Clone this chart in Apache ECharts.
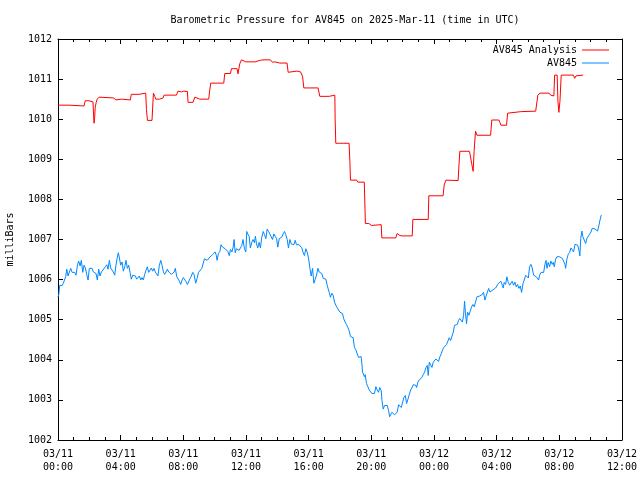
<!DOCTYPE html>
<html><head><meta charset="utf-8">
<script src="https://cdn.jsdelivr.net/npm/echarts@6/dist/echarts.min.js"></script>
<style>html,body{margin:0;padding:0;background:#fff}#c{width:640px;height:480px}</style>
</head><body><div id="c"></div>
<script>
// Time in hours since 03/11 00:00 UTC, pressure in milliBars
const xTickLabels = ['03/11\n00:00','03/11\n04:00','03/11\n08:00','03/11\n12:00','03/11\n16:00','03/11\n20:00','03/12\n00:00','03/12\n04:00','03/12\n08:00','03/12\n12:00'];
const seriesNames = ['AV845 Analysis', 'AV845'];

const analysisPoints = [[0,1010.35],[0.70,1010.35],[0.715,1010.33],[1.66,1010.33],[1.74,1010.46],[1.98,1010.46],[2.01,1010.43],[2.235,1010.43],[2.27,1010.1],[2.30,1009.9],[2.34,1010.05],[2.375,1010.3],[2.44,1010.42],[2.50,1010.5],[2.62,1010.55],[2.695,1010.53],[3.557,1010.53],[3.685,1010.48],[3.81,1010.46],[4.05,1010.5],[4.15,1010.48],[4.62,1010.48],[4.675,1010.62],[5.17,1010.62],[5.22,1010.65],[5.60,1010.65],[5.645,1010.24],[5.71,1009.97],[6.00,1009.97],[6.09,1010.65],[6.175,1010.57],[6.24,1010.5],[6.49,1010.5],[6.56,1010.52],[6.705,1010.53],[6.77,1010.6],[7.56,1010.6],[7.66,1010.7],[7.88,1010.68],[8.03,1010.7],[8.26,1010.69],[8.30,1010.42],[8.62,1010.42],[8.73,1010.55],[8.84,1010.53],[9.05,1010.5],[9.62,1010.5],[9.685,1010.72],[9.75,1010.9],[10.58,1010.9],[10.645,1011.14],[11.01,1011.14],[11.07,1011.26],[11.43,1011.26],[11.49,1011.13],[11.60,1011.38],[11.71,1011.48],[11.81,1011.45],[11.99,1011.43],[12.58,1011.43],[12.62,1011.47],[12.92,1011.47],[12.99,1011.49],[13.15,1011.48],[13.56,1011.48],[13.69,1011.42],[13.84,1011.43],[14.16,1011.4],[14.62,1011.4],[14.69,1011.17],[14.75,1011.2],[15.26,1011.2],[15.33,1011.22],[15.48,1011.18],[15.61,1011.07],[15.69,1010.78],[16.60,1010.78],[16.71,1010.57],[17.31,1010.57],[17.37,1010.6],[17.67,1010.6],[17.69,1010.0],[17.73,1009.4],[17.99,1009.4],[18.05,1009.38],[18.20,1009.4],[18.58,1009.4],[18.63,1008.95],[18.67,1008.48],[19.07,1008.48],[19.14,1008.43],[19.55,1008.43],[19.62,1007.4],[19.69,1007.38],[19.84,1007.4],[20.01,1007.35],[20.10,1007.37],[20.63,1007.37],[20.67,1007.04],[21.56,1007.04],[21.65,1007.15],[21.82,1007.1],[21.95,1007.09],[22.61,1007.09],[22.65,1007.5],[23.63,1007.5],[23.67,1008.09],[24.58,1008.09],[24.65,1008.36],[24.76,1008.48],[25.54,1008.47],[25.59,1008.83],[25.65,1009.2],[26.25,1009.2],[26.29,1009.15],[26.40,1008.9],[26.50,1008.7],[26.56,1009.2],[26.65,1009.7],[26.74,1009.6],[27.61,1009.6],[27.65,1009.78],[27.69,1009.98],[28.14,1009.98],[28.21,1009.92],[28.27,1009.85],[28.63,1009.85],[28.70,1010.15],[28.76,1010.19],[29.59,1010.19],[29.66,1010.2],[30.49,1010.2],[30.57,1010.18],[30.63,1010.6],[30.76,1010.65],[31.35,1010.65],[31.44,1010.6],[31.65,1010.58],[31.70,1011.1],[31.86,1011.1],[31.91,1010.45],[31.97,1010.17],[32.04,1010.45],[32.12,1011.1],[32.89,1011.1],[32.98,1011.02],[33.06,1011.08],[33.14,1011.1],[33.52,1011.1]];

const stationPointsA = [[0,1005.57],[0.05,1005.62],[0.11,1005.86],[0.17,1005.82],[0.26,1005.85],[0.34,1005.91],[0.43,1005.95],[0.49,1006.07],[0.56,1006.26],[0.64,1006.09],[0.73,1006.19],[0.81,1006.28],[0.90,1006.18],[1.07,1006.18],[1.15,1006.11],[1.24,1006.36],[1.32,1006.46],[1.41,1006.34],[1.49,1006.48],[1.58,1006.18],[1.66,1006.36],[1.75,1006.29],[1.83,1006.13],[1.92,1005.99],[2.00,1006.28],[2.17,1006.28],[2.26,1006.19],[2.43,1006.15],[2.51,1005.99],[2.60,1006.26],[2.68,1006.09],[2.77,1006.19],[2.85,1006.23],[3.02,1006.32],[3.11,1006.37],[3.19,1006.26],[3.28,1006.48],[3.36,1006.29],[3.45,1006.28],[3.53,1006.19],[3.62,1006.11],[3.70,1006.36],[3.79,1006.56],[3.85,1006.67],[3.92,1006.54],[4.00,1006.36],[4.09,1006.44],[4.17,1006.21],[4.26,1006.32],[4.34,1006.48],[4.43,1006.28],[4.51,1006.36],[4.60,1006.18],[4.68,1006.01],[4.77,1006.11],[4.85,1006.07],[4.94,1006.09],[5.02,1006.01],[5.11,1006.05],[5.19,1006.09],[5.28,1005.99],[5.36,1006.05],[5.45,1005.99],[5.53,1006.13],[5.62,1006.11],[5.70,1006.32],[5.79,1006.18],[5.87,1006.19],[5.96,1006.29],[6.04,1006.21],[6.13,1006.28],[6.21,1006.19],[6.30,1006.23],[6.38,1006.09],[6.47,1006.36],[6.56,1006.48],[6.64,1006.36],[6.73,1006.19],[6.81,1006.13],[6.90,1006.09],[6.98,1006.26],[7.07,1006.19],[7.15,1006.18],[7.24,1006.13],[7.32,1006.09],[7.41,1006.19],[7.49,1006.28],[7.58,1006.07],[7.66,1006.03],[7.75,1005.96],[7.83,1005.88],[7.92,1005.99],[8.00,1006.05],[8.09,1006.07],[8.17,1005.95],[8.26,1005.88],[8.34,1005.88],[8.43,1006.03],[8.51,1006.09],[8.60,1006.18],[8.68,1006.13]];

const stationPointsB = [[8.79,1005.91],[8.88,1006.03],[8.97,1006.18],[9.09,1006.18],[9.18,1006.28],[9.26,1006.29],[9.35,1006.52],[9.43,1006.56],[9.52,1006.48],[9.60,1006.52],[9.69,1006.56],[9.77,1006.56],[9.86,1006.62],[9.94,1006.60],[10.03,1006.69],[10.11,1006.60],[10.15,1006.48],[10.24,1006.65],[10.33,1006.70],[10.41,1006.87],[10.50,1006.81],[10.59,1006.79],[10.67,1006.77],[10.76,1006.73],[10.84,1006.70],[10.93,1006.60],[11.01,1006.75],[11.10,1006.69],[11.18,1006.81],[11.24,1007.00],[11.31,1006.67],[11.39,1006.77],[11.48,1006.79],[11.56,1006.73],[11.65,1006.69],[11.73,1006.85],[11.81,1007.00],[11.90,1006.77],[11.99,1006.69],[12.05,1007.20],[12.11,1007.14],[12.20,1007.08],[12.28,1006.79],[12.37,1006.93],[12.45,1007.00],[12.54,1006.92],[12.60,1007.08],[12.67,1006.89],[12.75,1006.79],[12.84,1006.93],[12.92,1006.79],[13.01,1007.06],[13.10,1007.20],[13.18,1007.12],[13.27,1007.02],[13.35,1007.26],[13.44,1007.20],[13.52,1007.14],[13.61,1007.18],[13.69,1007.00],[13.78,1007.14],[13.86,1007.08],[13.95,1007.03],[14.03,1006.81],[14.12,1007.02],[14.21,1007.00],[14.29,1007.06],[14.37,1007.14],[14.46,1007.20],[14.54,1007.12],[14.63,1007.00],[14.71,1006.79],[14.80,1007.00],[14.89,1006.89],[14.97,1006.89],[15.06,1006.87],[15.14,1006.98],[15.22,1006.87],[15.31,1006.85],[15.39,1006.87],[15.48,1006.87],[15.56,1006.79],[15.65,1006.67],[15.73,1006.60],[15.82,1006.77],[15.90,1006.69],[15.99,1006.54],[16.08,1006.28],[16.16,1006.09],[16.25,1006.28],[16.33,1005.91],[16.42,1006.01],[16.50,1006.11],[16.59,1006.28],[16.67,1006.19],[16.76,1006.18],[16.84,1006.15],[16.93,1006.03],[17.01,1006.07],[17.10,1006.01],[17.18,1005.86],[17.31,1005.68]];

const stationPointsC = [[17.39,1005.56],[17.48,1005.66],[17.56,1005.61],[17.65,1005.44],[17.73,1005.36],[17.82,1005.30],[17.90,1005.31],[17.99,1005.19],[18.07,1005.15],[18.16,1005.15],[18.24,1005.02],[18.33,1004.94],[18.41,1004.88],[18.50,1004.81],[18.58,1004.73],[18.67,1004.58],[18.75,1004.56],[18.84,1004.55],[18.92,1004.31],[19.01,1004.25],[19.10,1004.23],[19.18,1004.06],[19.27,1004.05],[19.35,1004.08],[19.39,1003.94],[19.44,1003.69],[19.52,1003.65],[19.56,1003.58],[19.61,1003.63],[19.69,1003.41],[19.78,1003.33],[19.86,1003.25],[19.95,1003.21],[20.03,1003.16],[20.12,1003.19],[20.20,1003.16],[20.29,1003.33],[20.37,1003.25],[20.46,1003.19],[20.54,1003.31],[20.63,1003.23],[20.68,1002.98],[20.76,1002.77],[20.84,1002.86],[20.93,1002.88],[21.02,1002.86],[21.10,1002.73],[21.17,1002.58],[21.23,1002.63],[21.31,1002.69],[21.40,1002.66],[21.48,1002.63],[21.57,1002.61],[21.65,1002.69],[21.74,1002.88],[21.82,1002.86],[21.91,1002.81],[21.99,1002.81],[22.08,1003.06],[22.17,1003.11],[22.25,1002.91],[22.34,1003.02],[22.42,1003.13],[22.51,1003.25],[22.59,1003.30],[22.68,1003.38],[22.76,1003.38],[22.85,1003.36],[22.89,1003.31],[22.97,1003.44],[23.06,1003.50],[23.14,1003.52],[23.23,1003.56],[23.31,1003.63],[23.40,1003.69],[23.48,1003.80],[23.57,1003.86],[23.63,1003.61],[23.70,1003.94],[23.78,1003.90],[23.87,1003.81],[23.95,1003.94],[24.04,1003.90],[24.12,1004.02],[24.20,1004.06],[24.29,1003.96],[24.38,1004.08],[24.46,1004.15],[24.55,1004.25],[24.63,1004.31],[24.72,1004.31],[24.80,1004.38],[24.89,1004.38],[24.97,1004.55],[25.06,1004.48],[25.14,1004.52],[25.23,1004.69],[25.31,1004.86],[25.40,1004.88],[25.48,1004.88],[25.57,1004.98]];

const stationPointsD = [[25.64,1005.03],[25.72,1005.07],[25.81,1004.94],[25.89,1005.11],[25.95,1005.46],[26.01,1005.15],[26.08,1004.90],[26.14,1005.19],[26.23,1005.11],[26.31,1005.21],[26.40,1005.32],[26.48,1005.38],[26.57,1005.32],[26.65,1005.44],[26.74,1005.57],[26.82,1005.59],[26.91,1005.59],[27.00,1005.59],[27.08,1005.63],[27.16,1005.68],[27.25,1005.49],[27.34,1005.61],[27.42,1005.65],[27.49,1005.78],[27.57,1005.69],[27.68,1005.71],[27.76,1005.74],[27.85,1005.78],[27.93,1005.79],[28.01,1005.78],[28.10,1005.90],[28.19,1005.86],[28.27,1005.96],[28.36,1005.86],[28.42,1005.79],[28.48,1005.93],[28.57,1005.88],[28.65,1006.07],[28.74,1005.93],[28.83,1005.86],[28.91,1005.88],[28.99,1005.96],[29.08,1005.86],[29.16,1005.94],[29.25,1005.82],[29.34,1005.88],[29.42,1005.78],[29.51,1005.84],[29.59,1005.68],[29.68,1005.90],[29.76,1005.99],[29.85,1006.11],[29.93,1006.15],[30.02,1006.04],[30.10,1006.32],[30.19,1006.38],[30.27,1006.29],[30.36,1006.11],[30.44,1006.09],[30.53,1006.07],[30.61,1006.04],[30.68,1005.99],[30.74,1006.11],[30.83,1006.18],[30.91,1006.18],[31.00,1006.18],[31.08,1006.38],[31.15,1006.48],[31.21,1006.28],[31.29,1006.43],[31.38,1006.32],[31.46,1006.46],[31.55,1006.38],[31.61,1006.43],[31.68,1006.32],[31.76,1006.51],[31.85,1006.57],[31.93,1006.57],[32.02,1006.57],[32.10,1006.57],[32.19,1006.53],[32.27,1006.46],[32.36,1006.38],[32.40,1006.28],[32.48,1006.51],[32.57,1006.63],[32.66,1006.68],[32.74,1006.79],[32.83,1006.74],[32.91,1006.69],[33.00,1006.88],[33.08,1006.88],[33.17,1006.86],[33.25,1006.74],[33.31,1006.59],[33.37,1007.03],[33.44,1007.21],[33.50,1007.07],[33.59,1007.11],[33.68,1006.90],[33.76,1007.03],[33.85,1007.07],[33.93,1007.13],[34.02,1007.19],[34.10,1007.28],[34.19,1007.29],[34.28,1007.26],[34.36,1007.24],[34.44,1007.21],[34.53,1007.36],[34.61,1007.51],[34.68,1007.61]];

const stationPoints = stationPointsA.concat(stationPointsB, stationPointsC, stationPointsD);

const FONT = 'DejaVu Sans Mono';
const txt = {fontFamily: FONT, fontSize: 10, color: '#000'};
const chart = echarts.init(document.getElementById('c'), null, {renderer: 'canvas'});
const axisCommonX = {
  type: 'value', min: 0, max: 36, interval: 4,
  axisLine: {show: true, onZero: false, lineStyle: {color: '#000', width: 1}},
  axisTick: {show: true, inside: true, length: 5, lineStyle: {color: '#000'}},
  minorTick: {show: true, splitNumber: 4, length: 3, lineStyle: {color: '#000'}},
  splitLine: {show: false}
};
const axisCommonY = {
  type: 'value', min: 1002, max: 1012, interval: 1,
  axisLine: {show: true, onZero: false, lineStyle: {color: '#000', width: 1}},
  axisTick: {show: true, inside: true, length: 5, lineStyle: {color: '#000'}},
  splitLine: {show: false}
};
chart.setOption({
  animation: false,
  backgroundColor: '#fff',
  title: {
    text: 'Barometric Pressure for AV845 on 2025-Mar-11 (time in UTC)',
    left: 340, top: 10, textAlign: 'center',
    textStyle: Object.assign({fontWeight: 'normal'}, txt)
  },
  legend: [
    {data: [seriesNames[0]], right: 31, top: 45, padding: 0, orient: 'vertical', align: 'right', icon: 'rect', itemWidth: 27, itemHeight: 1, textStyle: txt, selectedMode: false},
    {data: [seriesNames[1]], right: 31, top: 58, padding: 0, orient: 'vertical', align: 'right', icon: 'rect', itemWidth: 27, itemHeight: 1, textStyle: txt, selectedMode: false}
  ],
  grid: {left: 58, right: 18, top: 39, bottom: 40, containLabel: false, outerBoundsMode: 'none'},
  xAxis: [
    Object.assign({}, axisCommonX, {position: 'bottom',
      axisLabel: Object.assign({margin: 8, lineHeight: 13, formatter: v => xTickLabels[Math.round(v / 4)]}, txt)}),
    Object.assign({}, axisCommonX, {position: 'top', axisLabel: {show: false}})
  ],
  yAxis: [
    Object.assign({}, axisCommonY, {position: 'left', name: 'milliBars', nameLocation: 'middle', nameRotate: 90, nameGap: 43,
      nameTextStyle: txt, axisLabel: Object.assign({margin: 6, formatter: v => String(v)}, txt)}),
    Object.assign({}, axisCommonY, {position: 'right', axisLabel: {show: false}})
  ],
  series: [
    {name: seriesNames[0], type: 'line', data: analysisPoints, showSymbol: false, symbol: 'none',
     lineStyle: {color: '#ff0000', width: 1}, itemStyle: {color: '#ff0000'}},
    {name: seriesNames[1], type: 'line', data: stationPoints, showSymbol: false, symbol: 'none',
     lineStyle: {color: '#0088ff', width: 1}, itemStyle: {color: '#0088ff'}}
  ]
});
</script></body></html>
